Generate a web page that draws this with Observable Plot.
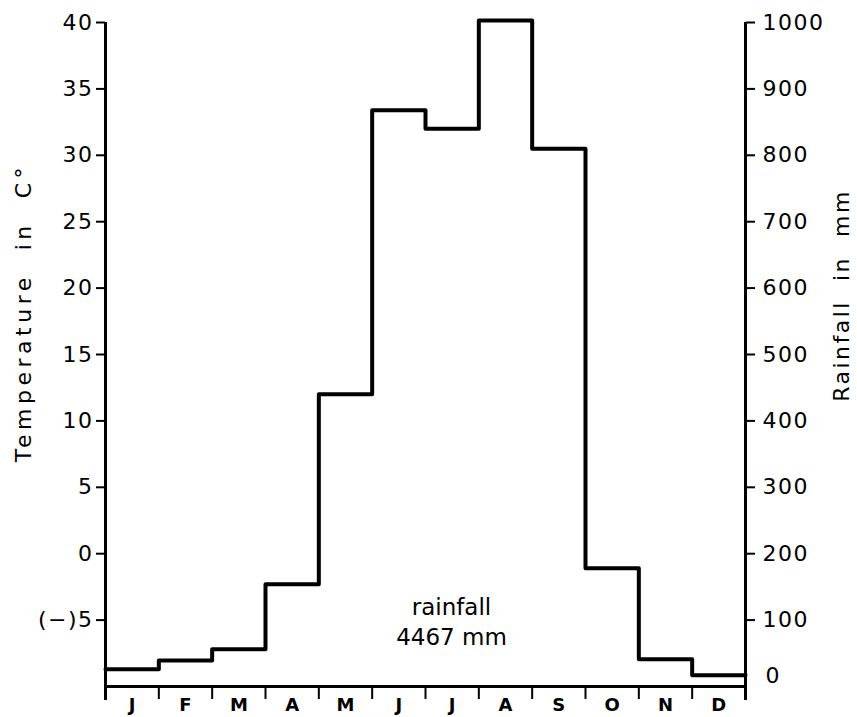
<!DOCTYPE html>
<html><head><meta charset="utf-8">
<script src="https://cdn.jsdelivr.net/npm/d3@7"></script>
<script src="https://cdn.jsdelivr.net/npm/@observablehq/plot@0.6"></script>
<style>body{margin:0;background:#fff} svg{display:block}</style>
</head><body><div id="chart"></div>
<script>
const months = ["J","F","M","A","M","J","J","A","S","O","N","D"];
const rainfall = [26, 39, 56, 154, 440, 868, 840, 1003, 810, 178, 41, 17];
const tempTicks = [40, 35, 30, 25, 20, 15, 10, 5, 0, -5];
const rainTicks = [1000, 900, 800, 700, 600, 500, 400, 300, 200, 100];
const totalLabel = "rainfall\n4467 mm";
const leftTitle = "Temperature  in  C°";
const rightTitle = "Rainfall  in  mm";
// 0 °C corresponds to 200 mm, 1 °C to 20 mm
const tempZeroMM = 200, mmPerDegree = 20;

const steps = rainfall.map((r, i) => ({x: i, y: r}));
steps.push({x: rainfall.length, y: rainfall[rainfall.length - 1]});
const boundaries = d3.range(months.length + 1);
const centers = months.map((m, i) => i + 0.5);

const font = "DejaVu Sans";
const chart = Plot.plot({
  width: 857, height: 717,
  marginLeft: 105, marginRight: 112, marginTop: 22, marginBottom: 31,
  style: {fontFamily: font, background: "#fff", color: "#000"},
  x: {domain: [0, 12]},
  y: {domain: [0, 1000]},
  marks: [
    Plot.ruleY([0], {x1: 0, x2: 12, strokeWidth: 3}),
    Plot.ruleX([0, 12], {y1: 1000, y2: 0, insetBottom: -14, strokeWidth: 3}),
    Plot.axisY({anchor: "left", ticks: tempTicks.map(t => tempZeroMM + mmPerDegree * t),
      tickFormat: d => { const t = (d - tempZeroMM) / mmPerDegree; return t < 0 ? `(−)${-t}` : `${t}`; },
      tickSize: 9, tickPadding: 3, strokeWidth: 2, fontSize: 22, label: null}),
    Plot.axisY({anchor: "right", ticks: rainTicks, tickFormat: d => `${d}`, tickSize: 9, tickPadding: 8, strokeWidth: 2, fontSize: 22, label: null}),
    Plot.axisY({anchor: "right", ticks: [0], tickFormat: d => `${d}`, tickSize: 0, tickPadding: 20, dy: -11, fontSize: 22, label: null}),
    Plot.axisX({ticks: boundaries, tickSize: 13, strokeWidth: 2, tickFormat: () => "", label: null}),
    Plot.axisX({ticks: centers, tickSize: 0, tickPadding: 12, tickFormat: d => months[Math.floor(d)], fontSize: 18, fontWeight: "bold", label: null}),
    Plot.line(steps, {x: "x", y: "y", curve: "step-after", stroke: "#000", strokeWidth: 4, strokeLinejoin: "round"}),
    Plot.text([totalLabel], {frameAnchor: "bottom", dx: 26, dy: -66, fontSize: 23, lineHeight: 1.3, lineAnchor: "middle"}),
    Plot.text([leftTitle], {frameAnchor: "left", textAnchor: "middle", rotate: -90, dx: -82, dy: -42, fontSize: 22}),
    Plot.text([rightTitle], {frameAnchor: "right", textAnchor: "middle", rotate: -90, dx: 96, dy: -59, fontSize: 22})
  ]
});
document.getElementById("chart").appendChild(chart);
d3.select(chart).selectAll("text").each(function() {
  const t = this.textContent;
  if (t.startsWith("Temperature")) this.style.letterSpacing = "4.5px";
  else if (t.startsWith("Rainfall")) this.style.letterSpacing = "2.5px";
  else if (/^[0-9(]/.test(t)) this.style.letterSpacing = "1.5px";
});
</script></body></html>
